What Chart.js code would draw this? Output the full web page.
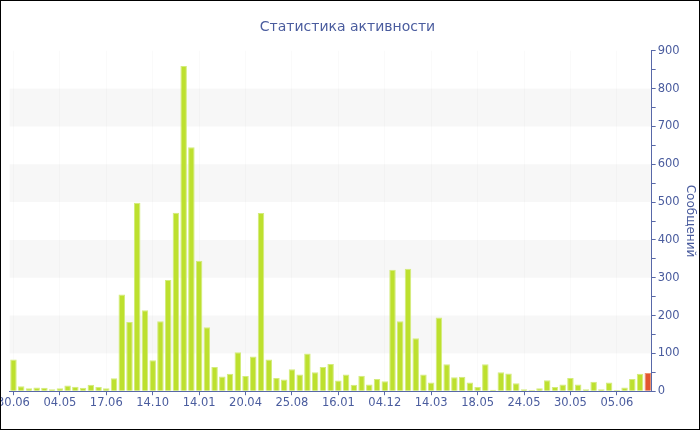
<!DOCTYPE html>
<html><head><meta charset="utf-8">
<script src="https://cdn.jsdelivr.net/npm/chart.js@4"></script>
<style>
html,body{margin:0;padding:0;background:#fff;}
#wrap{position:relative;width:698px;height:428px;border:1px solid #000;overflow:hidden;background:#fff;}
#box{position:absolute;left:-5px;top:0;width:703px;height:428px;}
</style></head><body>
<div id="wrap"><div id="box"><canvas id="c"></canvas></div></div>
<script>
const chartTitle = 'Статистика активности';
const yAxisTitle = 'Сообщений';
const tickLabels = ['30.06','04.05','17.06','14.10','14.01','20.04','25.08','16.01','04.12','14.03','18.05','24.05','30.05','05.06'];
const values = [
  84,13,8,10,9,5,8,15,12,9,17,11,8,34,
  256,183,498,214,82,185,294,472,860,645,345,169,64,39,46,103,
  40,92,471,84,35,31,58,44,100,50,64,72,28,44,17,41,18,32,26,
  321,185,324,140,44,23,195,71,37,38,23,11,71,4,50,47,21,5,3,8,
  29,11,18,35,18,5,25,5,23,3,10,32,46,48
];
const labelEvery = 6;
const barColor = '#bde02e';
const barBorder = '#d3ec7c';
const lastColor = '#e2562f';
const lastBorder = '#f0936f';
const textColor = '#4a5c9e';
const axisColor = '#5868a8';
const bandColor = '#f7f7f7';

const labels = values.map((v, i) => i % labelEvery === 0 ? tickLabels[i / labelEvery] : '');

const bandPlugin = {
  id: 'bands',
  beforeDraw(chart) {
    const {ctx, chartArea, scales} = chart;
    const y = scales.y;
    ctx.save();
    ctx.fillStyle = bandColor;
    for (let v = 100; v < 900; v += 200) {
      const t = y.getPixelForValue(v + 100);
      const b = y.getPixelForValue(v);
      ctx.fillRect(chartArea.left, t, chartArea.right - chartArea.left, b - t);
    }
    ctx.restore();
  }
};

new Chart(document.getElementById('c'), {
  type: 'bar',
  data: {
    labels: labels,
    datasets: [{
      data: values,
      backgroundColor: values.map((v, i) => i === values.length - 1 ? lastColor : barColor),
      borderColor: values.map((v, i) => i === values.length - 1 ? lastBorder : barBorder),
      borderWidth: 1,
      barPercentage: 0.84,
      categoryPercentage: 1.0
    }]
  },
  plugins: [bandPlugin],
  options: {
    responsive: true,
    maintainAspectRatio: false,
    animation: false,
    layout: {padding: {top: 10, left: 0, right: 0, bottom: 18}},
    plugins: {
      legend: {display: false},
      tooltip: {enabled: false},
      title: {
        display: true,
        text: chartTitle,
        color: textColor,
        font: {family: 'DejaVu Sans', size: 14, weight: 'normal'},
        padding: {top: 8, bottom: 15}
      }
    },
    scales: {
      x: {
        offset: true,
        grid: {
          offset: false,
          color: ctx => (ctx.index % labelEvery === 0) ? 'rgba(0,0,0,0.018)' : 'rgba(0,0,0,0)',
          tickColor: ctx => (ctx.index % labelEvery === 0) ? axisColor : 'rgba(0,0,0,0)',
          tickLength: 4
        },
        border: {color: axisColor, width: 1},
        ticks: {
          autoSkip: false,
          maxRotation: 0,
          padding: 1,
          color: textColor,
          font: {family: 'DejaVu Sans', size: 11.5}
        }
      },
      y: {
        position: 'right',
        min: 0,
        max: 900,
        grid: {drawOnChartArea: false, tickLength: 4, tickColor: axisColor},
        border: {color: axisColor, width: 1},
        ticks: {
          stepSize: 50,
          padding: 2,
          color: textColor,
          font: {family: 'DejaVu Sans', size: 11.5},
          callback: v => (v % 100 === 0 ? v : '')
        },
        title: {
          display: true,
          text: yAxisTitle,
          color: textColor,
          font: {family: 'DejaVu Sans', size: 12},
          padding: {top: 2, bottom: 1}
        }
      }
    }
  }
});
</script>
</body></html>
